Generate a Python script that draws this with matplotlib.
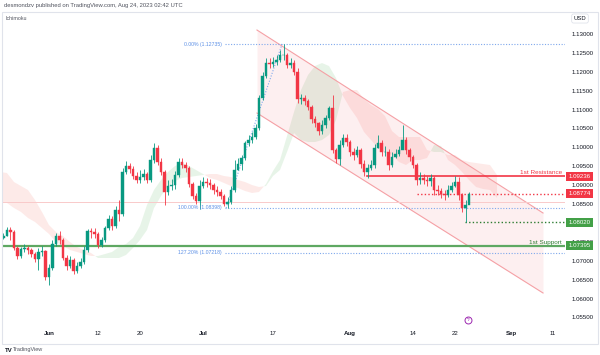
import numpy as np
import matplotlib
matplotlib.use("Agg")
import matplotlib.pyplot as plt
from matplotlib.patches import Rectangle

plt.rcParams['font.family'] = ['Liberation Sans', 'DejaVu Sans']

# ---------------- data ----------------
# 12-hour candles, x = trading-day index (0 = Jun 1 2023, weekends removed)
first_open = 1.07603
closes = [1.07656, 1.07814, 1.07761, 1.07338, 1.07127, 1.07312, 1.07338, 1.07285, 1.07179, 1.07047,
          1.07232, 1.07259, 1.06571, 1.06809, 1.07444, 1.07656, 1.07550, 1.07074, 1.06862, 1.07021,
          1.06730, 1.06862, 1.06968, 1.07285, 1.07788, 1.07761, 1.07709, 1.07418, 1.07550, 1.07867,
          1.08105, 1.07920, 1.08343, 1.08238, 1.09349, 1.09507, 1.09428, 1.09243, 1.09137, 1.09216,
          1.09296, 1.09137, 1.09666, 1.09984, 1.09613, 1.09349, 1.08820, 1.08978, 1.09005, 1.09269,
          1.09613, 1.09534, 1.09455, 1.09031, 1.08714, 1.08582, 1.08978, 1.09084, 1.09058, 1.09005,
          1.08873, 1.08820, 1.08714, 1.08502, 1.08555, 1.08873, 1.09402, 1.09560, 1.09719, 1.10116,
          1.10195, 1.10275, 1.10513, 1.11306, 1.11888, 1.12232, 1.12206, 1.12259, 1.12312, 1.12444,
          1.12444, 1.12179, 1.12232, 1.11994, 1.11280, 1.11306, 1.11227, 1.11068, 1.10751, 1.10645,
          1.10433, 1.10592, 1.10777, 1.11042, 1.09931, 1.09693, 1.10063, 1.10248, 1.10142, 1.09878,
          1.09798, 1.09931, 1.09560, 1.09349, 1.09455, 1.09534, 1.09984, 1.10116, 1.09878, 1.09878,
          1.09534, 1.09746, 1.09825, 1.09931, 1.10195, 1.09931, 1.09746, 1.09534, 1.09137, 1.09190,
          1.09137, 1.09111, 1.09190, 1.08873, 1.08846, 1.08767, 1.08740, 1.08873, 1.08978, 1.09084,
          1.08740, 1.08396, 1.08476, 1.08774]
highs = [1.07735, 1.07894, 1.07894, 1.07814, 1.07391, 1.07365, 1.07444, 1.07391, 1.07338, 1.07232,
         1.07338, 1.07391, 1.07285, 1.06915, 1.07550, 1.07735, 1.07788, 1.07603, 1.07153, 1.07127,
         1.07074, 1.06968, 1.07074, 1.07391, 1.07841, 1.07867, 1.07867, 1.07761, 1.07629, 1.07920,
         1.08211, 1.08185, 1.08449, 1.08608, 1.09455, 1.09640, 1.09587, 1.09507, 1.09349, 1.09402,
         1.09428, 1.09349, 1.09798, 1.10116, 1.10063, 1.09719, 1.09402, 1.09137, 1.09164, 1.09375,
         1.09719, 1.09719, 1.09613, 1.09507, 1.09084, 1.08793, 1.09137, 1.09216, 1.09190, 1.09164,
         1.09058, 1.08978, 1.08899, 1.08767, 1.08687, 1.08978, 1.09666, 1.09719, 1.09798, 1.10169,
         1.10328, 1.10407, 1.10619, 1.11386, 1.11994, 1.12365, 1.12365, 1.12391, 1.12444, 1.12576,
         1.12735, 1.12497, 1.12365, 1.12312, 1.12100, 1.11412, 1.11386, 1.11280, 1.11121, 1.10830,
         1.10671, 1.10724, 1.10857, 1.11095, 1.11386, 1.09984, 1.10195, 1.10354, 1.10354, 1.10195,
         1.09984, 1.10037, 1.09984, 1.09666, 1.09560, 1.09666, 1.10089, 1.10328, 1.10195, 1.10037,
         1.09957, 1.09878, 1.09957, 1.10037, 1.10592, 1.10275, 1.09984, 1.09798, 1.09587, 1.09349,
         1.09296, 1.09243, 1.09296, 1.09243, 1.09005, 1.08925, 1.08873, 1.09005, 1.09084, 1.09243,
         1.09216, 1.08793, 1.08608, 1.08820]
lows = [1.07576, 1.07656, 1.07550, 1.07285, 1.07047, 1.07074, 1.07232, 1.07179, 1.07100, 1.06968,
        1.06756, 1.07127, 1.06492, 1.06359, 1.06756, 1.07391, 1.07444, 1.07021, 1.06756, 1.06809,
        1.06650, 1.06677, 1.06809, 1.06915, 1.07232, 1.07603, 1.07603, 1.07338, 1.07365, 1.07497,
        1.07814, 1.07814, 1.07867, 1.08052, 1.08185, 1.09296, 1.09322, 1.09164, 1.09058, 1.09058,
        1.09137, 1.09058, 1.09084, 1.09587, 1.09534, 1.09269, 1.08476, 1.08740, 1.08873, 1.08899,
        1.09216, 1.09455, 1.09349, 1.08952, 1.08634, 1.08502, 1.08370, 1.08925, 1.08952, 1.08899,
        1.08767, 1.08714, 1.08634, 1.08449, 1.08396, 1.08502, 1.08820, 1.09402, 1.09402, 1.09666,
        1.10037, 1.10116, 1.10222, 1.10460, 1.11253, 1.11836, 1.12100, 1.12127, 1.12179, 1.12259,
        1.12312, 1.12100, 1.12100, 1.11915, 1.11174, 1.11148, 1.11121, 1.10989, 1.10645, 1.10539,
        1.10328, 1.10354, 1.10513, 1.10724, 1.09851, 1.09587, 1.09534, 1.10010, 1.10037, 1.09772,
        1.09666, 1.09746, 1.09455, 1.09243, 1.09190, 1.09402, 1.09455, 1.09984, 1.09772, 1.09772,
        1.09402, 1.09481, 1.09719, 1.09772, 1.10037, 1.09825, 1.09640, 1.09455, 1.09005, 1.09031,
        1.09031, 1.08978, 1.08978, 1.08740, 1.08740, 1.08661, 1.08608, 1.08687, 1.08820, 1.08952,
        1.08608, 1.08291, 1.08020, 1.08529]
bar_start = -6.5     # trading-day index of first candle
bar_step = 0.5       # two candles per trading day

# Ichimoku cloud (Senkou span A / B), one value per trading day from index -7
cloud_start = -7
span_a = [1.08555, 1.08529, 1.08396, 1.08291, 1.08132, 1.08026, 1.07867, 1.07709, 1.07497, 1.07391,
          1.07285, 1.07232, 1.07179, 1.07127, 1.07127, 1.07179, 1.07232, 1.07365, 1.07444, 1.07603,
          1.07920, 1.08476, 1.08873, 1.09137, 1.09349, 1.09507, 1.09587, 1.09507, 1.09402, 1.09296,
          1.09190, 1.09137, 1.09058, 1.08978, 1.08925, 1.08846, 1.08793, 1.08820, 1.09031, 1.09375,
          1.09666, 1.10301, 1.10936, 1.11518, 1.11915, 1.12153, 1.12232, 1.12153, 1.11836, 1.11359,
          1.11042, 1.10777, 1.10407, 1.10195, 1.09984, 1.09878, 1.09798, 1.09613, 1.09534, 1.09666,
          1.09666, 1.09719, 1.10063, 1.10037, 1.09666, 1.09534, 1.09349, 1.09137, 1.08952, 1.08899,
          1.08873, 1.08661]
span_b = [1.09349, 1.09322, 1.09084, 1.08978, 1.08873, 1.08608, 1.08291, 1.07946, 1.07761, 1.07656,
          1.07497, 1.07365, 1.07285, 1.07206, 1.07074, 1.07074, 1.07074, 1.07074, 1.07153, 1.07338,
          1.07550, 1.07814, 1.08396, 1.08714, 1.08978, 1.09111, 1.09190, 1.09216, 1.09243, 1.09269,
          1.09296, 1.09296, 1.09243, 1.09216, 1.09137, 1.09084, 1.09005, 1.08952, 1.08978, 1.09243,
          1.09402, 1.09878, 1.10380, 1.10195, 1.10142, 1.10142, 1.10195, 1.10328, 1.10724, 1.11465,
          1.11518, 1.11518, 1.11280, 1.11121, 1.11015, 1.10830, 1.10433, 1.10275, 1.10275, 1.10275,
          1.10275, 1.09931, 1.09878, 1.09878, 1.09798, 1.09798, 1.09666, 1.09613, 1.09587, 1.09560,
          1.09534, 1.09269]

# descending parallel channel (x = trading-day index)
channel_x = [29.71, 70.57]
channel_top = [1.13105, 1.08264]
channel_bot = [1.10909, 1.06148]

# Fibonacci retracement
fib_anchor_x = [25.3, 33.3]
fib_anchor_y = [1.08398, 1.12735]
fib_levels = [1.12735, 1.08398, 1.07218]
fib_labels = ["0.00% (1.12735)", "100.00% (1.08398)", "127.20% (1.07218)"]

resistance_1 = 1.09236
resistance_dotted = 1.08774
support_dotted = 1.08020
support_1 = 1.07395
old_level = 1.08561

# 1.08000 is hidden behind the 1.08020 label in the original
price_ticks = [1.055, 1.06, 1.065, 1.07, 1.075, 1.085, 1.09, 1.095, 1.10,
               1.105, 1.11, 1.115, 1.12, 1.125, 1.13]
date_ticks = [0, 7, 13, 22, 32, 43, 52, 58, 66, 72]
date_labels = ["Jun", "12", "20", "Jul", "17", "Aug", "14", "22", "Sep", "11"]
month_labels = {"Jun", "Jul", "Aug", "Sep"}
event_x = 59.9

# ---------------- figure ----------------
W, H = 600, 355
fig = plt.figure(figsize=(W / 100, H / 100), dpi=100)
fig.patch.set_facecolor("white")

ax = fig.add_axes([3 / W, (H - 325) / H, 562 / W, 313 / H])
ax.set_xlim(-6.571, 73.71)
ax.set_ylim(1.05301, 1.13582)
ax.set_facecolor("white")
for s in ax.spines.values():
    s.set_visible(False)

UP = "#089981"
DN = "#f23645"
RED = "#f23645"
GREEN = "#43a047"
BLUE_L = "#7fa8ec"

# Ichimoku cloud
cx = cloud_start + np.arange(len(span_a))
sa = np.array(span_a)
sb = np.array(span_b)
ax.fill_between(cx, sa, sb, where=sa >= sb, interpolate=True, color="#4caf50", alpha=0.13, lw=0, zorder=1)
ax.fill_between(cx, sa, sb, where=sa < sb, interpolate=True, color="#f44336", alpha=0.11, lw=0, zorder=1)

# channel
ax.fill_between(channel_x, channel_bot, channel_top, color="#f23645", alpha=0.08, lw=0, zorder=1)
ax.plot(channel_x, channel_top, color="#f5a0a5", lw=0.8, zorder=2)
ax.plot(channel_x, channel_bot, color="#f5a0a5", lw=0.8, zorder=2)

# faint old level
ax.axhline(old_level, color="#f9caca", lw=0.7, zorder=2)

# fib
fx0 = fib_anchor_x[0] - 0.2
for lv, lb in zip(fib_levels, fib_labels):
    ax.plot([fx0, 73.71], [lv, lv], color=BLUE_L, lw=0.8, ls=(0, (1, 1.5)), zorder=2)
    ax.text(fx0 - 0.4, lv, lb, ha="right", va="center", fontsize=3.7, color="#5b8fe6", zorder=4)
ax.plot(fib_anchor_x, fib_anchor_y, color=BLUE_L, lw=0.8, ls=(0, (1, 1.5)), zorder=2)

# support / resistance
ax.plot([45.4, 73.71], [resistance_1, resistance_1], color=RED, lw=1.2, zorder=2)
ax.plot([52.6, 73.71], [resistance_dotted, resistance_dotted], color=RED, lw=1.0, ls=(0, (1, 1.6)), zorder=2)
ax.plot([59.4, 73.71], [support_dotted, support_dotted], color="#2e7d32", lw=1.0, ls=(0, (1, 1.6)), zorder=2)
ax.axhline(support_1, color="#5ea862", lw=1.6, zorder=2)
ax.text(73.3, resistance_1 + 0.0003, "1st Resistance", ha="right", va="bottom", fontsize=4.6,
        color=RED, zorder=4)
ax.text(73.3, support_1 + 0.0003, "1st Support", ha="right", va="bottom", fontsize=4.6,
        color="#2e7d32", zorder=4)

# candles
n = len(closes)
bx = bar_start + bar_step * np.arange(n)
c = np.array(closes)
o = np.array([first_open] + closes[:-1])
h = np.array(highs)
l = np.array(lows)
cols = np.where(c >= o, UP, DN)
ax.vlines(bx, l, h, colors=cols, lw=0.6, zorder=3)
ax.bar(bx, c - o, bottom=o, width=0.32, color=cols, edgecolor=cols, lw=0.3, zorder=3)

# axes ticks
ax.yaxis.tick_right()
ax.set_yticks(price_ticks)
ax.set_yticklabels([f"{p:.5f}" for p in price_ticks])
ax.tick_params(axis="y", length=0, pad=4.5, labelsize=4.4, labelcolor="#131722")
ax.set_xticks(date_ticks)
ax.set_xticklabels(date_labels)
ax.tick_params(axis="x", length=0, pad=4.5, labelsize=4.4, labelcolor="#131722")
for t in ax.get_xticklabels():
    if t.get_text() in month_labels:
        t.set_fontweight("bold")

# price label boxes
ytr = ax.get_yaxis_transform()
for val, fc in [(resistance_1, RED), (resistance_dotted, RED), (support_dotted, GREEN), (support_1, GREEN)]:
    ax.text(1.0 + 3.5 / 562, val, f"{val:.5f}", transform=ytr, ha="left", va="center", fontsize=4.4,
            color="white", zorder=6, clip_on=False,
            bbox=dict(boxstyle="square,pad=0.35", fc=fc, ec="none"))

# panel frame and decorations
fig.patches.append(Rectangle((2 / W, (H - 344) / H), 596 / W, 332 / H, transform=fig.transFigure,
                             fill=False, ec="#e0e3eb", lw=0.8))
fig.text(4 / W, 1 - 5.5 / H, "desmondzv published on TradingView.com, Aug 24, 2023 02:42 UTC",
         fontsize=4.2, color="#50535e", va="center", ha="left")
fig.text(6 / W, 1 - 19 / H, "Ichimoku", fontsize=3.8, color="#50535e", va="center", ha="left")
fig.text(580 / W, 1 - 18.5 / H, "USD", fontsize=4.2, color="#131722", va="center", ha="center",
         bbox=dict(boxstyle="round,pad=0.35", fc="white", ec="#e0e3eb", lw=0.6))
fig.text(5 / W, 1 - 350 / H, "TV", fontsize=4.4, color="#131722", va="center", ha="left", fontweight="bold")
fig.text(13 / W, 1 - 350 / H, "TradingView", fontsize=4.0, color="#50535e", va="center", ha="left")

# event marker (on the time scale, just above the date labels)
evy = ax.get_xaxis_transform()
ax.plot([event_x], [0.017], marker="o", ms=5, mfc="white", mec="#9c27b0", mew=0.7,
        transform=evy, clip_on=False, zorder=5)
ax.text(event_x, 0.017, "ϟ", transform=evy, ha="center", va="center", fontsize=3.6,
        color="#9c27b0", zorder=6, clip_on=False)

fig.savefig("out.png", dpi=100)
